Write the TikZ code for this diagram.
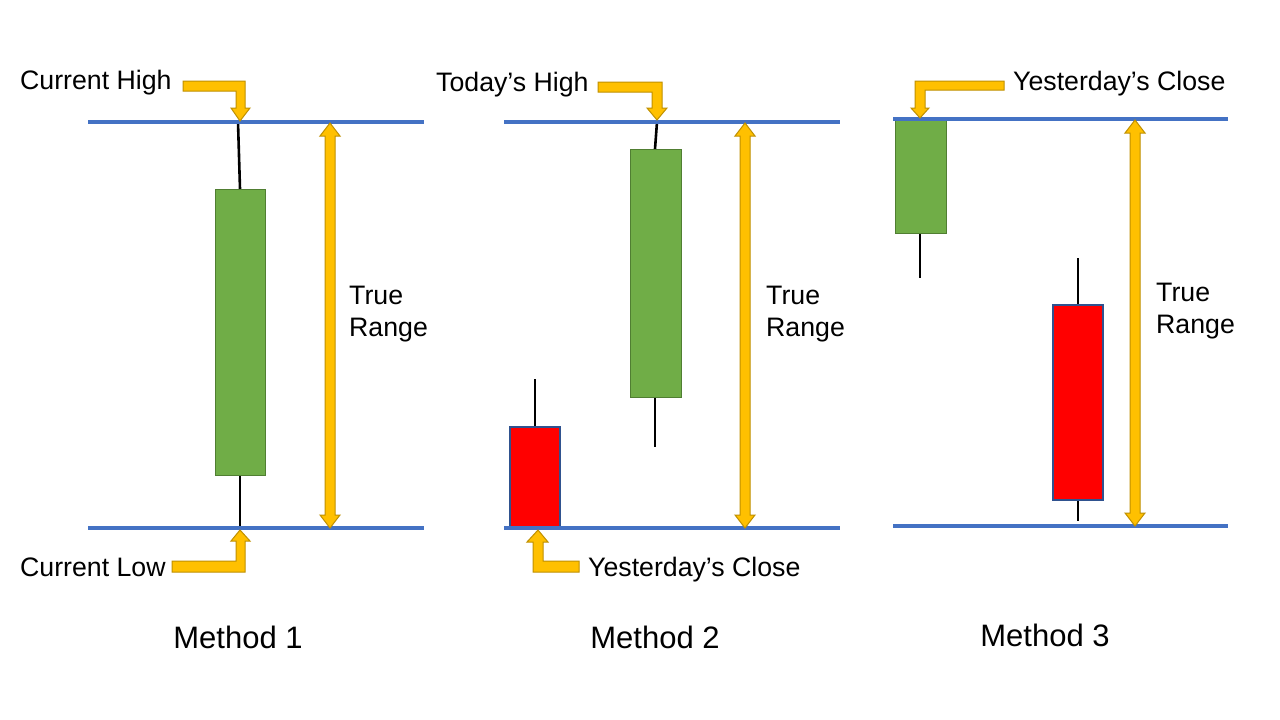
\documentclass[tikz,border=0pt]{standalone}
\usepackage{fontspec}
\setmainfont{Liberation Sans}
\definecolor{lineblue}{HTML}{4472C4}
\definecolor{arrowyellow}{HTML}{FFC000}
\definecolor{arrowedge}{HTML}{BF9000}
\definecolor{candlegreen}{HTML}{70AD47}
\definecolor{greenedge}{HTML}{507E32}
\definecolor{candlered}{HTML}{FF0000}
\definecolor{rededge}{HTML}{2F528F}
\begin{document}
\begin{tikzpicture}[x=1pt,y=-1pt,
  level/.style={draw=lineblue,line width=3.2pt},
  wick/.style={draw=black,line width=2.6pt},
  upbody/.style={fill=candlegreen,draw=greenedge,line width=1pt},
  downbody/.style={fill=candlered,draw=rededge,line width=1.3pt},
  blockarrow/.style={fill=arrowyellow,draw=arrowedge,line width=1pt,line join=miter},
  lbl/.style={font=\fontsize{26.7}{32}\selectfont,inner sep=0pt},
  rangelbl/.style={font=\fontsize{26.7}{32}\selectfont,inner sep=0pt,align=left,anchor=west},
  method/.style={font=\fontsize{31}{36}\selectfont,inner sep=0pt}]
\useasboundingbox (0,0) rectangle (1280,720);
\fill[white] (0,0) rectangle (1280,720);

% ===== Method 1 =====
\coordinate (h1a) at (88,122); \coordinate (h1b) at (424,122);
\coordinate (l1a) at (88,528); \coordinate (l1b) at (424,528);
\draw[wick] (238,122) -- (240,189);
\draw[wick] (240,475) -- (240,528);
\path[upbody] (215,189) rectangle (265,475);
\draw[level] (h1a) -- (h1b);
\draw[level] (l1a) -- (l1b);
% true range arrow
\path[blockarrow] (330,123) -- (340,136) -- (335,136) -- (335,515) -- (340,515) -- (330,528) -- (320,515) -- (325,515) -- (325,136) -- (320,136) -- cycle;
\node[rangelbl] (tr1) at (349,314) {True\\Range};
% Current High
\node[lbl,anchor=west] (ch) at (20,83) {Current High};
\path[blockarrow] (183,81) -- (245,81) -- (245,108) -- (250,108) -- (240,121) -- (231,108) -- (236,108) -- (236,91) -- (183,91) -- cycle;
% Current Low
\node[lbl,anchor=west] (cl) at (20,567) {Current Low};
\path[blockarrow] (240,530) -- (250,541) -- (245,541) -- (245,572) -- (172,572) -- (172,561) -- (236,561) -- (236,541) -- (231,541) -- cycle;
\node[method] (m1) at (238,637) {Method 1};

% ===== Method 2 =====
\coordinate (h2a) at (504,122); \coordinate (h2b) at (840,122);
\coordinate (l2a) at (504,528); \coordinate (l2b) at (840,528);
\draw[wick] (657,122) -- (655,149);
\draw[wick] (655,397) -- (655,447);
\path[upbody] (630,149) rectangle (681,397);
\draw[wick] (535,379) -- (535,427);
\path[downbody] (510,427) rectangle (560,528);
\draw[level] (h2a) -- (h2b);
\draw[level] (l2a) -- (l2b);
\path[blockarrow] (745,123) -- (755,136) -- (750,136) -- (750,515) -- (755,515) -- (745,528) -- (735,515) -- (740,515) -- (740,136) -- (735,136) -- cycle;
\node[rangelbl] (tr2) at (766,314) {True\\Range};
% Today's High
\node[lbl,anchor=west] (th) at (436,85) {Today’s High};
\path[blockarrow] (598,82) -- (662,82) -- (662,108) -- (667,108) -- (657,120) -- (647,108) -- (652,108) -- (652,92) -- (598,92) -- cycle;
% Yesterday's Close (bottom)
\node[lbl,anchor=west] (yc2) at (588,570) {Yesterday’s Close};
\path[blockarrow] (538,530) -- (548,542) -- (543,542) -- (543,561) -- (579,561) -- (579,572) -- (533,572) -- (533,542) -- (527,542) -- cycle;
\node[method] (m2) at (655,637) {Method 2};

% ===== Method 3 =====
\coordinate (h3a) at (893,119); \coordinate (h3b) at (1228,119);
\coordinate (l3a) at (893,526); \coordinate (l3b) at (1228,526);
\draw[wick] (920,233) -- (920,278);
\path[upbody] (895,119) rectangle (946,233);
\draw[wick] (1078,258) -- (1078,305);
\draw[wick] (1078,500) -- (1078,521);
\path[downbody] (1053,305) rectangle (1103,500);
\draw[level] (h3a) -- (h3b);
\draw[level] (l3a) -- (l3b);
\path[blockarrow] (1135,120) -- (1145,133) -- (1140,133) -- (1140,513) -- (1145,513) -- (1135,526) -- (1125,513) -- (1130,513) -- (1130,133) -- (1125,133) -- cycle;
\node[rangelbl] (tr3) at (1156,311) {True\\Range};
% Yesterday's Close (top)
\node[lbl,anchor=west] (yc3) at (1013,84) {Yesterday’s Close};
\path[blockarrow] (1004,81) -- (1004,90) -- (925,90) -- (925,108) -- (929,108) -- (920,118) -- (911,108) -- (915,108) -- (915,81) -- cycle;
\node[method] (m3) at (1045,635) {Method 3};
\end{tikzpicture}
\end{document}
